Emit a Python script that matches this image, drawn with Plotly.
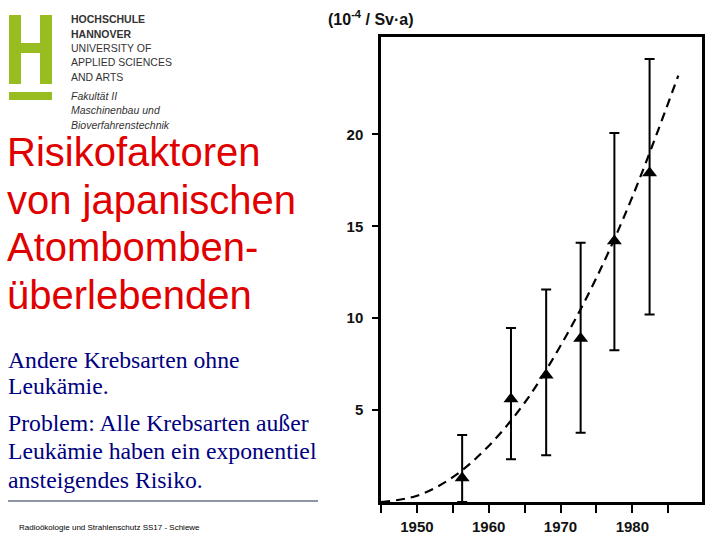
import plotly.graph_objects as go

# ---- data ----
years = [1956.3, 1963.1, 1968.0, 1972.8, 1977.5, 1982.4]
risk = [1.3, 5.6, 6.9, 8.9, 14.2, 17.9]
err_top = [3.64, 9.47, 11.56, 14.1, 20.07, 24.1]
err_bottom = [0.0, 2.32, 2.54, 3.77, 8.26, 10.2]

fit_years = [1945, 1950, 1955, 1960, 1965, 1970, 1975, 1980, 1986.4]
fit_risk = [0.0, 0.34, 1.35, 3.05, 5.4, 8.5, 12.2, 16.6, 23.2]

x_tickvals = [1950, 1960, 1970, 1980]
x_ticktext = ["1950", "1960", "1970", "1980"]
y_tickvals = [5, 10, 15, 20]
y_ticktext = ["5", "10", "15", "20"]

title_lines = ["Risikofaktoren", "von japanischen", "Atombomben-", "überlebenden"]
body_lines = ["Andere Krebsarten ohne", "Leukämie.", "Problem: Alle Krebsarten außer",
              "Leukämie haben ein exponentiel", "ansteigendes Risiko."]
logo_lines = ["<b>HOCHSCHULE</b>", "<b>HANNOVER</b>", "UNIVERSITY OF", "APPLIED SCIENCES", "AND ARTS",
              "<i>Fakultät II</i>", "<i>Maschinenbau und</i>", "<i>Bioverfahrenstechnik</i>"]
footer = "Radioökologie und Strahlenschutz SS17 - Schiewe"

W, H = 720, 540
def px(x):
    return x / W
def py(y):
    return 1 - y / H

err_plus = [t - v for t, v in zip(err_top, risk)]
err_minus = [v - b for v, b in zip(risk, err_bottom)]

fig = go.Figure()
fig.add_trace(go.Scatter(
    x=fit_years, y=fit_risk, mode="lines", line_shape="spline",
    line=dict(color="black", width=2.2, dash="9px,6px"), hoverinfo="skip"))
fig.add_trace(go.Scatter(
    x=years, y=risk, mode="markers",
    marker=dict(symbol="triangle-up", size=13, color="black"),
    error_y=dict(type="data", symmetric=False, array=err_plus, arrayminus=err_minus,
                 color="black", thickness=2, width=5)))

annotations = []
# y-axis unit label
annotations.append(dict(x=px(326), y=py(18), xref="paper", yref="paper", xanchor="left", yanchor="middle",
                        text="<b>(10<sup>-4</sup> / Sv·a)</b>", showarrow=False,
                        font=dict(family="Liberation Sans, Arial", size=16, color="#111")))
# logo text
logo_y = [19, 34, 48, 62, 77, 96, 110, 125]
for t, yy in zip(logo_lines, logo_y):
    annotations.append(dict(x=px(69), y=py(yy), xref="paper", yref="paper", xanchor="left", yanchor="middle",
                            text=t, showarrow=False,
                            font=dict(family="Liberation Sans, Arial", size=10.5, color="#333")))
# title
title_base = [165, 212.5, 260, 307.5]
for t, b in zip(title_lines, title_base):
    annotations.append(dict(x=px(5), y=py(b - 13), xref="paper", yref="paper", xanchor="left", yanchor="middle",
                            text=t, showarrow=False,
                            font=dict(family="Liberation Sans, Arial", size=40, color="#e00000")))
# body
body_base = [366.5, 393, 430, 458, 487]
for t, b in zip(body_lines, body_base):
    annotations.append(dict(x=px(6), y=py(b - 7), xref="paper", yref="paper", xanchor="left", yanchor="middle",
                            text=t, showarrow=False,
                            font=dict(family="Liberation Serif, Times New Roman", size=23.7, color="#000080")))
# footer
annotations.append(dict(x=px(17), y=py(527), xref="paper", yref="paper", xanchor="left", yanchor="middle",
                        text=footer, showarrow=False,
                        font=dict(family="Liberation Sans, Arial", size=8, color="#000")))

green = "#97bd21"
shapes = [
    dict(type="rect", xref="paper", yref="paper", x0=px(9), x1=px(21), y0=py(15), y1=py(84),
         fillcolor=green, line_width=0),
    dict(type="rect", xref="paper", yref="paper", x0=px(40), x1=px(52), y0=py(15), y1=py(84),
         fillcolor=green, line_width=0),
    dict(type="rect", xref="paper", yref="paper", x0=px(9), x1=px(52), y0=py(43), y1=py(53),
         fillcolor=green, line_width=0),
    dict(type="rect", xref="paper", yref="paper", x0=px(9), x1=px(52), y0=py(92), y1=py(100),
         fillcolor=green, line_width=0),
    dict(type="line", xref="paper", yref="paper", x0=px(8), x1=px(318), y0=py(501), y1=py(501),
         line=dict(color="#1f2f4f", width=1.2)),
]

tickfont = dict(family="Liberation Sans, Arial", size=15, color="#111", weight="bold")
fig.update_layout(
    width=W, height=H, margin=dict(l=0, r=0, t=0, b=0),
    paper_bgcolor="white", plot_bgcolor="white", showlegend=False,
    annotations=annotations, shapes=shapes,
    xaxis=dict(domain=[px(381), px(702)], range=[1945, 1989.7], tickvals=x_tickvals, ticktext=x_ticktext,
               ticks="outside", ticklen=8, tickwidth=2, tickcolor="black",
               minor=dict(tick0=1945, dtick=5, ticks="outside", ticklen=8, tickwidth=2, tickcolor="black"),
               showline=True, linecolor="black", linewidth=2.5, mirror=True, showgrid=False, zeroline=False,
               tickfont=tickfont, ticklabelstandoff=1),
    yaxis=dict(domain=[py(502), py(37)], range=[0, 25.3], tickvals=y_tickvals, ticktext=y_ticktext,
               ticks="outside", ticklen=6, tickwidth=2, tickcolor="black",
               showline=True, linecolor="black", linewidth=2.5, mirror=True, showgrid=False, zeroline=False,
               tickfont=tickfont, ticklabelstandoff=6),
)

fig.write_html("out.html", config=dict(displayModeBar=False),
               post_script="document.body.style.margin='0';")
